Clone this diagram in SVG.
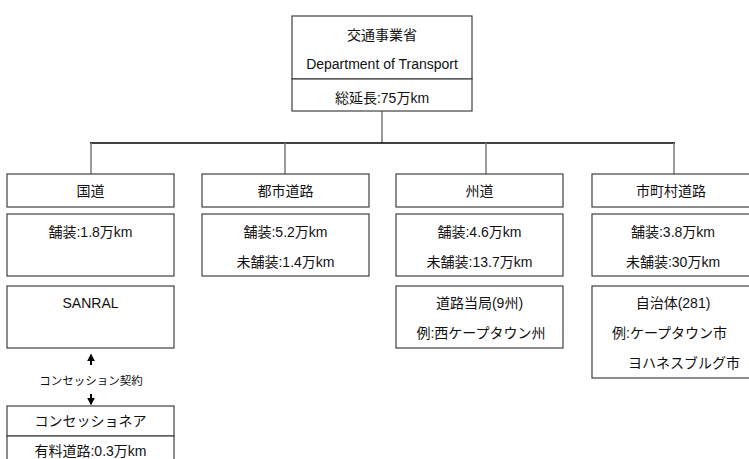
<svg xmlns="http://www.w3.org/2000/svg" width="749" height="459" viewBox="0 0 749 459">
<defs>
<style>
.box{fill:#ffffff;stroke:#404040;stroke-width:1.2}
.t{font-family:"Liberation Sans","Noto Sans CJK JP",sans-serif;font-size:14px;fill:#111111;text-anchor:middle}
.ts{font-family:"Liberation Sans","Noto Sans CJK JP",sans-serif;font-size:11.5px;fill:#111111;text-anchor:middle}
.st{text-anchor:start}
.v{stroke:#7a7a7a;stroke-width:1.5;fill:none}
.h{stroke:#000000;stroke-width:1.5;fill:none}
.arr{stroke:#000000;stroke-width:2;fill:none}
</style>
<marker id="ah" viewBox="0 0 10 10" refX="8" refY="5" markerWidth="4" markerHeight="4" orient="auto" markerUnits="strokeWidth">
<path d="M0,0 L10,5 L0,10 z" fill="#000000"/>
</marker>
</defs>
<rect width="749" height="459" fill="#ffffff"/>
<g id="connectors">
<line class="v" x1="382" y1="111" x2="382" y2="143"/>
<line class="h" x1="90" y1="143" x2="675" y2="143"/>
<line class="v" x1="91" y1="143" x2="91" y2="174"/>
<line class="v" x1="285" y1="143" x2="285" y2="174"/>
<line class="v" x1="486" y1="143" x2="486" y2="174"/>
<line class="v" x1="674" y1="143" x2="674" y2="174"/>
<line class="arr" x1="91" y1="365" x2="91" y2="355" marker-end="url(#ah)"/>
<line class="arr" x1="91" y1="394" x2="91" y2="404" marker-end="url(#ah)"/>
<text class="ts" x="91" y="385">コンセッション契約</text>
</g>
<g id="dot">
<rect class="box" x="292" y="16" width="180" height="63"/>
<text class="t" x="382" y="40">交通事業省</text>
<text class="t" x="382" y="69">Department of Transport</text>
</g>
<g id="dot-total">
<rect class="box" x="292" y="79" width="180" height="32"/>
<text class="t" x="382" y="103">総延長:75万km</text>
</g>
<g id="national">
<rect class="box" x="7" y="174" width="167" height="33"/>
<text class="t" x="90.5" y="196">国道</text>
<rect class="box" x="7" y="214" width="167" height="62"/>
<text class="t" x="90.5" y="237">舗装:1.8万km</text>
</g>
<g id="urban">
<rect class="box" x="202" y="174" width="167" height="33"/>
<text class="t" x="285.5" y="196">都市道路</text>
<rect class="box" x="202" y="214" width="167" height="62"/>
<text class="t" x="285.5" y="237">舗装:5.2万km</text>
<text class="t" x="285.5" y="267">未舗装:1.4万km</text>
</g>
<g id="provincial">
<rect class="box" x="396" y="174" width="167" height="33"/>
<text class="t" x="479.5" y="196">州道</text>
<rect class="box" x="396" y="214" width="167" height="62"/>
<text class="t" x="479.5" y="237">舗装:4.6万km</text>
<text class="t" x="479.5" y="267">未舗装:13.7万km</text>
</g>
<g id="municipal">
<rect class="box" x="592" y="174" width="167" height="33"/>
<text class="t" x="671" y="196">市町村道路</text>
<rect class="box" x="592" y="214" width="167" height="62"/>
<text class="t" x="673" y="237">舗装:3.8万km</text>
<text class="t" x="673" y="267">未舗装:30万km</text>
</g>
<g id="sanral">
<rect class="box" x="7" y="286" width="167" height="62"/>
<text class="t" x="90.5" y="308">SANRAL</text>
</g>
<g id="road-authority">
<rect class="box" x="396" y="286" width="167" height="62"/>
<text class="t" x="479.5" y="308">道路当局(9州)</text>
<text class="t" x="481" y="338">例:西ケープタウン州</text>
</g>
<g id="municipality">
<rect class="box" x="592" y="286" width="167" height="92"/>
<text class="t" x="673" y="308">自治体(281)</text>
<text class="t st" x="612" y="338">例:ケープタウン市</text>
<text class="t st" x="628" y="368">ヨハネスブルグ市</text>
</g>
<g id="concessionaire">
<rect class="box" x="7" y="406" width="167" height="30"/>
<text class="t" x="90.5" y="426">コンセッショネア</text>
</g>
<g id="toll-road">
<rect class="box" x="7" y="436" width="167" height="40"/>
<text class="t" x="90.5" y="456">有料道路:0.3万km</text>
</g>
</svg>
